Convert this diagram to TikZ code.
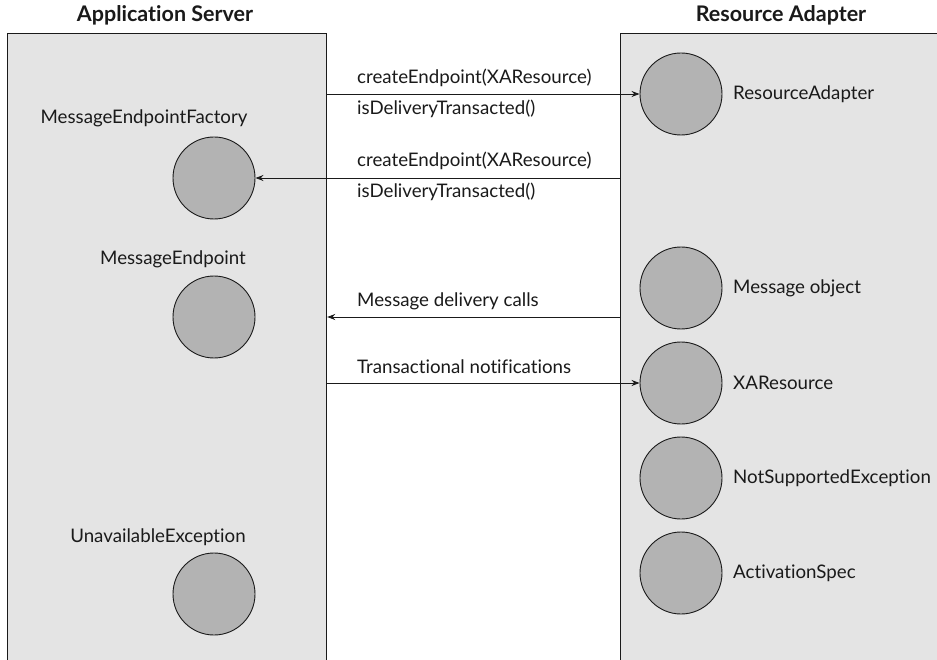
\documentclass[tikz,border=0pt]{standalone}
\usepackage{fontspec}
\setmainfont{Lato}[Ligatures={NoCommon,NoRare,NoContextual}]
\usetikzlibrary{arrows.meta}
\definecolor{boxgray}{HTML}{E4E4E4}
\definecolor{ballgray}{HTML}{B3B3B3}
\definecolor{inkc}{HTML}{1A1A1A}
\begin{document}
\begin{tikzpicture}[x=1pt,y=-1pt,
  panel/.style={draw=inkc,line width=1.2pt,fill=boxgray,anchor=north west,inner sep=0pt},
  ball/.style={circle,draw=inkc,line width=0.9pt,fill=ballgray,minimum size=82pt,inner sep=0pt},
  lbl/.style={text=inkc,font=\fontsize{18.7}{22}\selectfont,inner sep=0pt},
  ttl/.style={text=inkc,font=\fontsize{21.5}{25}\selectfont\bfseries,inner sep=0pt},
  conn/.style={draw=inkc,line width=0.9pt,-{Stealth[length=8pt,width=6pt]}}]
\useasboundingbox (0,0) rectangle (937,660);
\fill[white] (0,0) rectangle (937,660);
% panels
\node[panel,minimum width=319pt,minimum height=700pt] (lbox) at (7,33) {};
\node[panel,minimum width=380pt,minimum height=700pt] (rbox) at (620,33) {};
\node[ttl] (tl) at (165,15) {Application Server};
\node[ttl] (tr) at (781,15) {Resource Adapter};
% left circles
\node[ball] (mef) at (214,178) {};
\node[lbl] (mefl) at (144,118) {MessageEndpointFactory};
\node[ball] (me) at (214,317) {};
\node[lbl] (mel) at (173,259) {MessageEndpoint};
\node[ball] (ue) at (214,594) {};
\node[lbl] (uel) at (158,537) {UnavailableException};
% right circles
\node[ball] (ra) at (681,94) {};
\node[lbl,anchor=west] (ral) at (733,94) {ResourceAdapter};
\node[ball] (mo) at (681,288) {};
\node[lbl,anchor=west] (mol) at (733,288) {Message object};
\node[ball] (xa) at (681,383) {};
\node[lbl,anchor=west] (xal) at (733,383) {XAResource};
\node[ball] (nse) at (681,478) {};
\node[lbl,anchor=west] (nsel) at (733,478) {NotSupportedException};
\node[ball] (as) at (681,573) {};
\node[lbl,anchor=west] (asl) at (733,573) {ActivationSpec};
% connectors
\draw[conn] (lbox.east |- ra.west) -- (ra.west);
\node[lbl,anchor=west] (a1t) at (357,78) {createEndpoint(XAResource)};
\node[lbl,anchor=west] (a1b) at (357,109) {isDeliveryTransacted()};
\draw[conn] (rbox.west |- mef.east) -- (mef.east);
\node[lbl,anchor=west] (a2t) at (357,161) {createEndpoint(XAResource)};
\node[lbl,anchor=west] (a2b) at (357,192) {isDeliveryTransacted()};
\coordinate (mdc) at (lbox.east |- me.east);
\draw[conn] (rbox.west |- me.east) -- (mdc);
\node[lbl,anchor=west] (a3t) at (357,301) {Message delivery calls};
\draw[conn] (lbox.east |- xa.west) -- (xa.west);
\node[lbl,anchor=west] (a4t) at (357,367) {Transactional notifications};
\end{tikzpicture}
\end{document}
